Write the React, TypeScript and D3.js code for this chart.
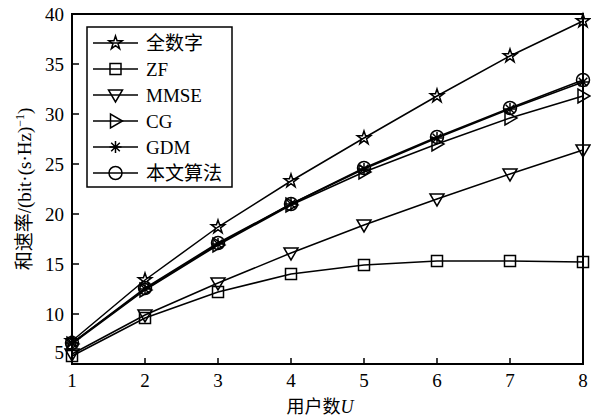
import * as d3 from "d3"

// 用户数 U
const users = [1, 2, 3, 4, 5, 6, 7, 8]
const yTicks = [5, 10, 15, 20, 25, 30, 35, 40]

const seriesNames = ["全数字", "ZF", "MMSE", "CG", "GDM", "本文算法"]
const fullDigital = [7.3, 13.4, 18.7, 23.3, 27.6, 31.8, 35.8, 39.3]
const zf = [5.8, 9.6, 12.2, 14.0, 14.9, 15.3, 15.3, 15.2]
const mmse = [6.0, 9.9, 13.1, 16.1, 18.9, 21.5, 24.0, 26.4]
const cg = [7.0, 12.4, 16.9, 20.9, 24.2, 27.0, 29.6, 31.8]
const gdm = [7.1, 12.5, 17.0, 21.0, 24.5, 27.6, 30.5, 33.2]
const proposed = [7.1, 12.6, 17.1, 21.0, 24.6, 27.7, 30.6, 33.4]

const allSeries = [fullDigital, zf, mmse, cg, gdm, proposed]
const markers = ["star", "square", "down", "right", "asterisk", "circle"]

const W = 591, H = 420
const left = 72, right = 583, top = 14, bottom = 364
const serif = "'Liberation Serif', 'Times New Roman', 'Noto Sans CJK SC', serif"

const x = d3.scaleLinear().domain([1, 8]).range([left, right])
const y = d3.scaleLinear().domain([5, 40]).range([bottom, top])

function Marker({ type, cx, cy }: { type: string; cx: number; cy: number }) {
    const s = { fill: "none", stroke: "#000", strokeWidth: 1.5 }
    if (type === "star") {
        const p = d3.symbol(d3.symbolStar, 55)()
        return <path d={p ?? ""} transform={`translate(${cx},${cy})`} {...s} />
    }
    if (type === "square") {
        return <rect x={cx - 5.5} y={cy - 5.5} width={11} height={11} {...s} />
    }
    if (type === "circle") {
        return <circle cx={cx} cy={cy} r={6.5} {...s} />
    }
    if (type === "down") {
        return <path d={`M${cx - 7},${cy - 5}L${cx + 7},${cy - 5}L${cx},${cy + 7}Z`} {...s} />
    }
    if (type === "right") {
        return <path d={`M${cx - 5},${cy - 7}L${cx - 5},${cy + 7}L${cx + 7},${cy}Z`} {...s} />
    }
    // asterisk: plus + cross
    const r = 6, d = 4.3
    return (
        <path
            d={`M${cx - r},${cy}L${cx + r},${cy}M${cx},${cy - r}L${cx},${cy + r}M${cx - d},${cy - d}L${cx + d},${cy + d}M${cx - d},${cy + d}L${cx + d},${cy - d}`}
            {...s}
        />
    )
}

export default function App() {
    const line = d3.line<number>().x((_, i) => x(users[i])).y(d => y(d))

    const legX = 87, legY = 27, legW = 145, legH = 160, rowH = 26

    return (
        <svg width={W} height={H} style={{ position: "absolute", left: 0, top: 0, background: "#fff" }}>
            {/* series */}
            {allSeries.map((vals, k) => (
                <g key={k}>
                    <path d={line(vals) ?? ""} fill="none" stroke="#000" strokeWidth={1.5} />
                    {vals.map((v, i) => (
                        <Marker key={i} type={markers[k]} cx={x(users[i])} cy={y(v)} />
                    ))}
                </g>
            ))}

            {/* frame */}
            <rect x={left} y={top} width={right - left} height={bottom - top} fill="none" stroke="#000" strokeWidth={2} />

            {/* ticks */}
            {users.map(u => (
                <g key={u}>
                    <line x1={x(u)} x2={x(u)} y1={bottom} y2={bottom - 6} stroke="#000" strokeWidth={1.5} />
                    <text x={x(u)} y={387} textAnchor="middle" fontFamily={serif} fontSize={19}>{u}</text>
                </g>
            ))}
            {yTicks.map(t => (
                <g key={t}>
                    <line x1={left} x2={left + 7} y1={y(t)} y2={y(t)} stroke="#000" strokeWidth={1.5} />
                    <text x={64} y={t === 5 ? y(t) - 12 : y(t)} dy="0.35em" textAnchor="end" fontFamily={serif} fontSize={19}>{t}</text>
                </g>
            ))}

            {/* axis titles */}
            <text x={320} y={413} textAnchor="middle" fontFamily={serif} fontSize={18}>
                用户数<tspan fontStyle="italic">U</tspan>
            </text>
            <text transform={`translate(31,${(top + bottom) / 2}) rotate(-90)`} textAnchor="middle" fontFamily={serif} fontSize={19}>
                和速率/(bit·(s·Hz)<tspan fontSize={12} dy={-7}>−1</tspan><tspan dy={7}>)</tspan>
            </text>

            {/* legend */}
            <rect x={legX} y={legY} width={legW} height={legH} fill="#fff" stroke="#000" strokeWidth={1.5} />
            {seriesNames.map((name, k) => {
                const cy = legY + 16 + k * rowH
                return (
                    <g key={name}>
                        <line x1={93} x2={138} y1={cy} y2={cy} stroke="#000" strokeWidth={1.5} />
                        <Marker type={markers[k]} cx={115.5} cy={cy} />
                        <text x={146} y={cy} dy="0.35em" fontFamily={serif} fontSize={19}>{name}</text>
                    </g>
                )
            })}
        </svg>
    )
}
